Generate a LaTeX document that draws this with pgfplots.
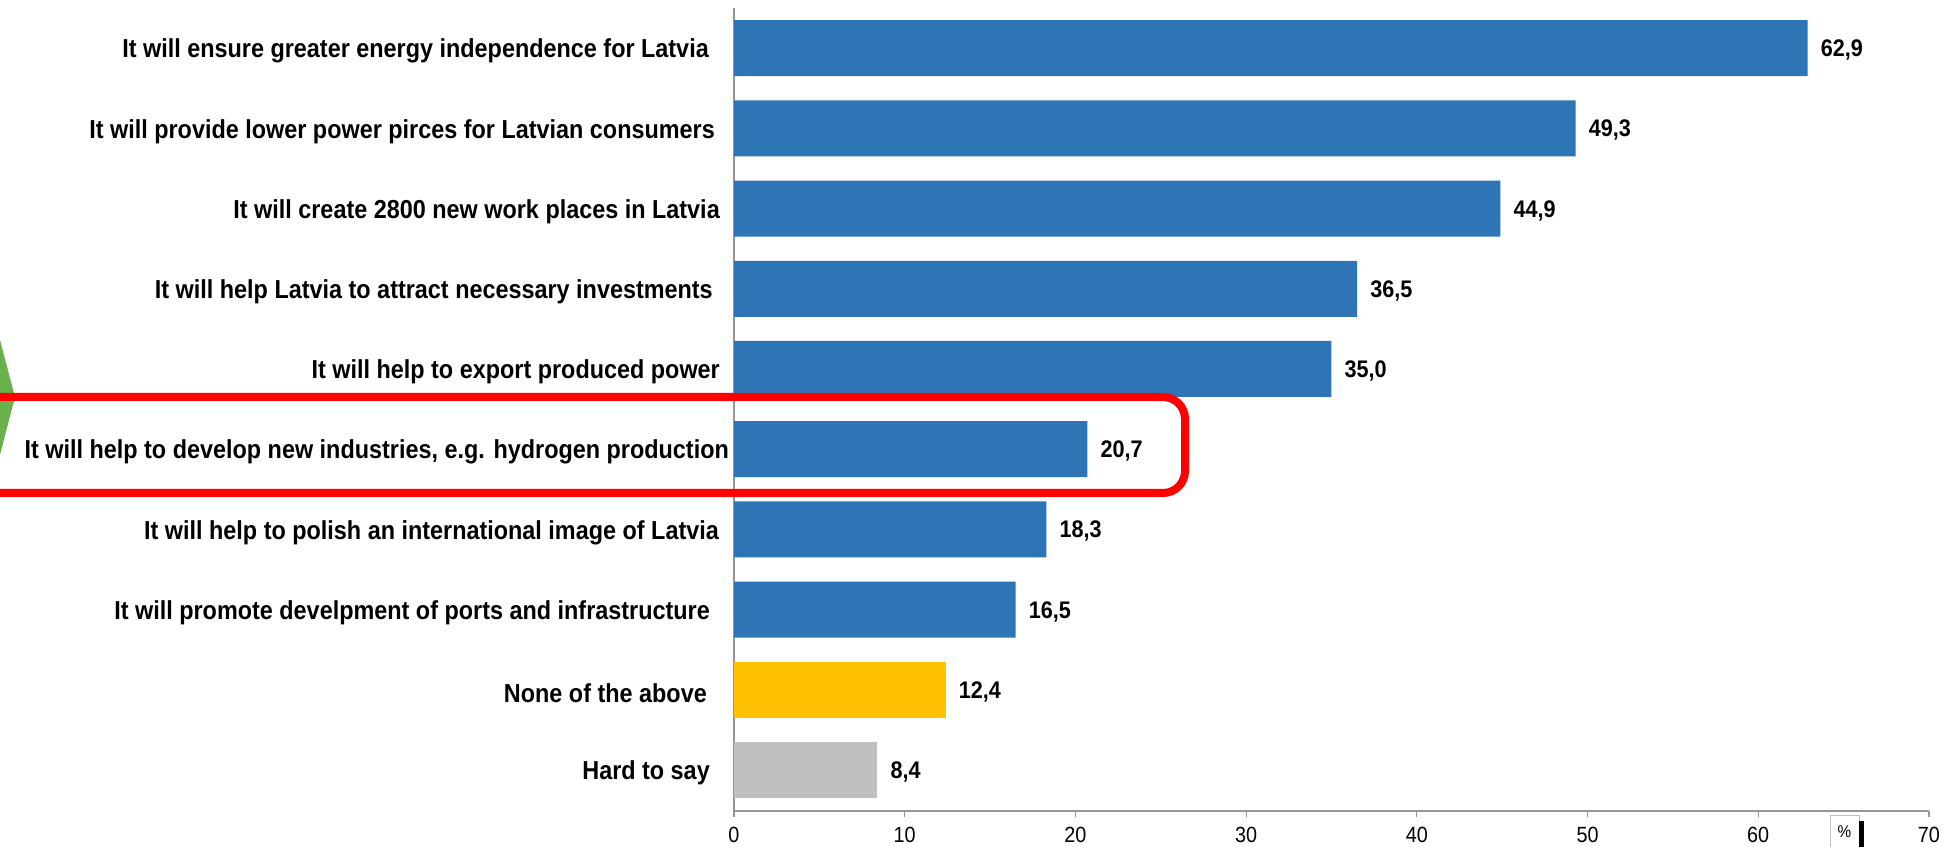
\documentclass[border=0pt]{standalone}
\usepackage{pgfplots}
\pgfplotsset{compat=1.18}
\usepackage{fontspec}
\setmainfont[FakeStretch=0.9]{Liberation Sans}
\definecolor{barblue}{RGB}{46,117,182}
\definecolor{baryellow}{RGB}{255,192,0}
\definecolor{bargray}{RGB}{191,191,191}
\definecolor{arrowgreen}{RGB}{106,176,76}
\definecolor{axgray}{RGB}{150,150,150}
\begin{document}
\begin{tikzpicture}[x=1pt,y=1pt]
\useasboundingbox (0,0) rectangle (1945,846);
\begin{scope}
\clip (0,0) rectangle (1945,846);
\fill[arrowgreen] (-5,525) -- (15,449) -- (-5,372) -- cycle;
\begin{axis}[
  at={(734pt,35pt)}, anchor=south west, scale only axis,
  width=1195pt, height=803pt,
  xmin=0, xmax=70, ymin=-0.51, ymax=9.5,
  xbar, bar width=56pt, bar shift=0pt,
  axis lines=left,
  axis line style={-, draw=axgray, line width=1.5pt},
  xtick={0,10,...,70},
  ytick={0,...,9},
  yticklabels={
    {Hard to say\hspace*{10pt}},
    {None of the above\hspace*{13pt}},
    {It will promote develpment of ports and infrastructure\hspace*{10pt}},
    {It will help to polish an international image of Latvia\hspace*{1pt}},
    {It will help to develop new industries, e.g. hydrogen production\hspace*{-9pt}},
    {It will help to export produced power},
    {It will help Latvia to attract necessary investments\hspace*{7pt}},
    {It will create 2800 new work places in Latvia},
    {It will provide lower power pirces for Latvian consumers\hspace*{5pt}},
    {It will ensure greater energy independence for Latvia\hspace*{11pt}}
  },
  y tick style={draw=none},
  x tick style={draw=axgray, line width=1.2pt},
  tick align=outside, major tick length=6pt,
  /pgf/number format/assume math mode=true,
  xticklabel style={font=\fontsize{22}{25}\selectfont, inner sep=0pt, anchor=center, yshift=-18pt},
  yticklabel style={font=\fontsize{26}{30}\selectfont\bfseries, inner sep=0pt, anchor=east, xshift=-8pt, yshift=-3pt},
  point meta=x,
  nodes near coords={\pgfmathprintnumber[fixed,fixed zerofill,precision=1,use comma,assume math mode=true]{\pgfplotspointmeta}},
  nodes near coords style={font=\fontsize{24}{27}\selectfont\bfseries, text=black, anchor=west, inner sep=0pt, xshift=13pt, yshift=-2pt},
  clip=false,
]
\addplot[fill=barblue, draw=none] coordinates {(62.9,9) (49.3,8) (44.9,7) (36.5,6) (35.0,5) (20.7,4) (18.3,3) (16.5,2)};
\addplot[fill=baryellow, draw=none] coordinates {(12.4,1)};
\addplot[fill=bargray, draw=none] coordinates {(8.4,0)};
\end{axis}
\draw[red, line width=8pt, rounded corners=22pt] (-60,449) rectangle (1185,353);
\filldraw[fill=white, draw=gray!50] (1830,31) rectangle (1859,-5);
\fill[black] (1859,25) rectangle (1864,-5);
\node[font=\fontsize{17}{20}\selectfont] at (1844.5,14) {\%};
\end{scope}
\end{tikzpicture}
\end{document}
